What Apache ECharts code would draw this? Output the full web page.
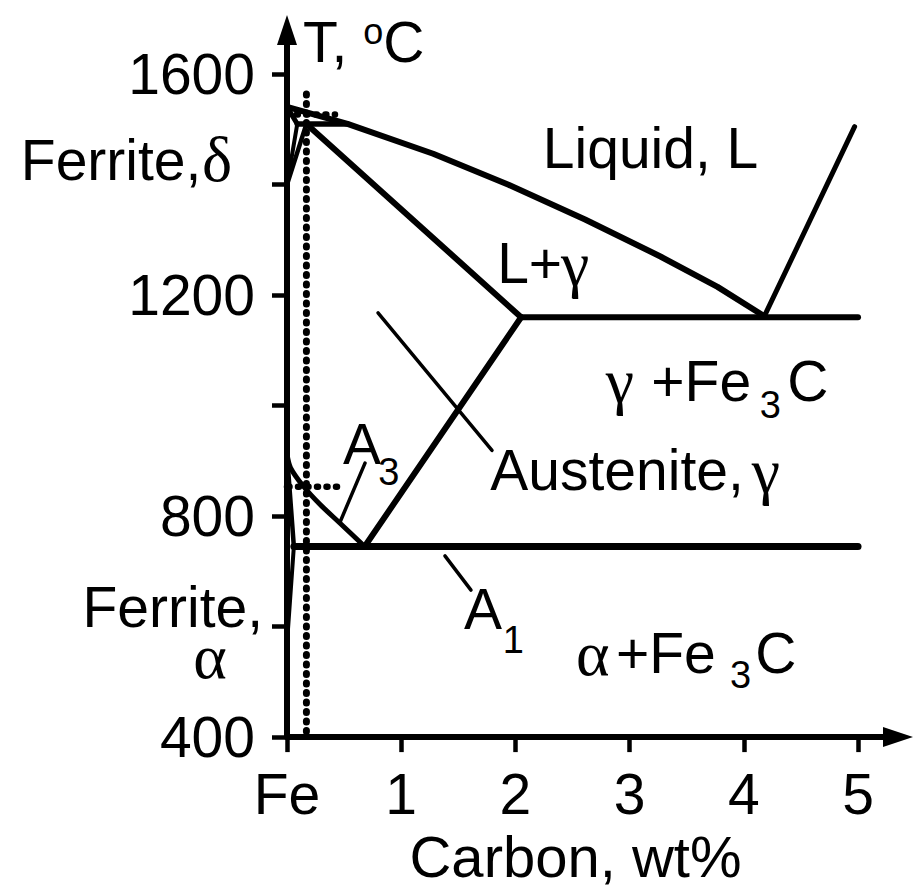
<!DOCTYPE html>
<html><head><meta charset="utf-8">
<script src="https://cdn.jsdelivr.net/npm/echarts@6/dist/echarts.min.js"></script>
<style>html,body{margin:0;padding:0;background:#fff}#c{width:916px;height:890px}</style>
</head><body><div id="c"></div>
<script>
// ---- axis ticks ----
const carbonTicks = [0, 1, 2, 3, 4, 5];
const carbonTickLabels = ['Fe', '1', '2', '3', '4', '5'];
const tempTicks = [400, 600, 800, 1000, 1200, 1400, 1600];
const tempLabels = [400, 800, 1200, 1600];

// ---- phase boundaries (wt% C, deg C) ----
const liquidusC = [0, 0.53, 1.28, 1.94, 2.61, 3.27, 3.77, 4.18];
const liquidusT = [1541, 1510, 1456, 1400, 1337, 1270, 1215, 1162];
const cementiteLiquidusC = [4.18, 4.97];
const cementiteLiquidusT = [1162, 1505];
const solidusC = [0.17, 2.05];
const solidusT = [1510, 1160];
const peritecticC = [0.09, 0.53];
const peritecticT = [1510, 1510];
const deltaSolidusC = [0, 0.09];
const deltaSolidusT = [1541, 1510];
const deltaSolvusC = [0.09, 0];
const deltaSolvusT = [1510, 1400];
const gammaDeltaC = [0.17, 0];
const gammaDeltaT = [1510, 1400];
const eutecticC = [2.05, 5.0];
const eutecticT = [1160, 1160];
const acmC = [2.05, 0.68];
const acmT = [1160, 745];
const a3C = [0, 0.03, 0.14, 0.29, 0.46, 0.68];
const a3T = [912, 888, 855, 821, 788, 745];
const alphaGammaC = [0, 0.06];
const alphaGammaT = [912, 745];
const alphaSolvusC = [0.06, 0];
const alphaSolvusT = [745, 570];
const eutectoidC = [0.06, 5.0];
const eutectoidT = [745, 745];

// ---- dashed guide lines for the 0.17 wt% steel ----
const guideVerticalC = [0.17, 0.17];
const guideVerticalT = [1564, 400];
const guideTopC = [-0.08, 0.42];
const guideTopT = [1527, 1527];
const guideLowC = [-0.07, 0.46];
const guideLowT = [853, 853];

// ---- leader lines ----
const leaderDeltaC = [-0.455, -0.035];
const leaderDeltaT = [1443, 1490];
const leaderAusteniteC = [0.797, 1.795];
const leaderAusteniteT = [1168, 919];
const leaderA3C = [0.683, 0.464];
const leaderA3T = [896, 789];
const leaderA1C = [1.383, 1.611];
const leaderA1T = [728, 666];
const leaderAlphaC = [-0.473, -0.035];
const leaderAlphaT = [680, 716];

// ---- text annotations ----
const annotationText = ['Liquid, L', 'L+', 'γ', 'γ', '+Fe', '3', 'C', 'Austenite,', 'γ', 'A', '3', 'A', '1', 'α', '+Fe', '3', 'C', 'Ferrite,', 'δ', 'Ferrite,', 'α'];
const annotationKind = ['sans', 'sans', 'greek', 'greek', 'sans', 'sub', 'sans', 'sans', 'greek', 'sans', 'sub', 'sans', 'sub', 'greek', 'sans', 'sub', 'sans', 'sansR', 'greekR', 'sansR', 'greek'];
const annotationC = [2.24, 1.84, 2.40, 2.79, 3.19, 4.14, 4.38, 1.78, 4.07, 0.49, 0.80, 1.55, 1.89, 2.53, 2.88, 3.88, 4.10, -0.75, -0.48, -0.21, -0.82];
const annotationT = [1466, 1258, 1258, 1045, 1045, 1002, 1045, 883, 883, 930, 880, 632, 576, 552, 552, 512, 552, 1445, 1445, 636, 545];

const pairs = (cs, ts) => cs.map((c, i) => [c, ts[i]]);

const SANS = 'Liberation Sans';
const SERIF = 'Liberation Serif';
const FS = 57;

function lineSeries(name, cs, ts, width, dashed, smooth) {
  return {
    name: name, type: 'line', data: pairs(cs, ts), showSymbol: false, symbol: 'none',
    clip: false, smooth: smooth ? 0.3 : false, silent: true, z: 5,
    lineStyle: { color: '#000', width: width, type: dashed ? [1, 8.5] : 'solid', cap: 'round', join: 'round', opacity: 1 }
  };
}

const kindStyle = {
  sans: { fontFamily: SANS, fontSize: FS, lineHeight: 46, pos: 'right' },
  sansR: { fontFamily: SANS, fontSize: FS, lineHeight: 46, pos: 'left' },
  greek: { fontFamily: SERIF, fontSize: 64, lineHeight: 46, pos: 'right' },
  greekR: { fontFamily: SERIF, fontSize: 64, lineHeight: 46, pos: 'left' },
  sub: { fontFamily: SANS, fontSize: 38, lineHeight: 32, pos: 'right' }
};

const annotationData = annotationText.map((t, i) => {
  const k = kindStyle[annotationKind[i]];
  return {
    name: t, value: [annotationC[i], annotationT[i]],
    label: { show: true, formatter: t, position: k.pos, distance: 0, fontFamily: k.fontFamily, fontSize: k.fontSize,
      lineHeight: k.lineHeight, color: '#000', opacity: 1, textBorderWidth: 0, textShadowBlur: 0 }
  };
});

const chart = echarts.init(document.getElementById('c'), null, { renderer: 'svg' });
chart.setOption({
  animation: false,
  backgroundColor: '#fff',
  grid: { left: 287, right: 18, top: 30, bottom: 142, containLabel: false },
  xAxis: {
    type: 'value', min: 0, max: 5.35,
    name: 'Carbon, wt%', nameLocation: 'middle', nameGap: 80,
    nameTextStyle: { fontFamily: SANS, fontSize: 58, color: '#000', padding: [0, 34, 0, 0] },
    axisLine: { show: true, onZero: false, symbol: ['none', 'triangle'], symbolSize: [20, 30], lineStyle: { color: '#000', width: 6 } },
    axisTick: { show: true, customValues: carbonTicks, length: 15, inside: false, lineStyle: { color: '#000', width: 4.5 } },
    axisLabel: { show: true, customValues: carbonTicks, formatter: v => carbonTickLabels[carbonTicks.indexOf(Math.round(v))], fontFamily: SANS, fontSize: FS, color: '#000', margin: 28 },
    splitLine: { show: false }
  },
  yAxis: {
    type: 'value', min: 400, max: 1680,
    name: 'T, {s|o}C', nameLocation: 'end', nameGap: -12,
    nameTextStyle: { fontFamily: SANS, fontSize: FS, color: '#000', align: 'left', verticalAlign: 'middle', padding: [0, 0, 0, 16],
      rich: { s: { fontFamily: SANS, fontSize: 36, verticalAlign: 'top', lineHeight: 56 } } },
    axisLine: { show: true, onZero: false, symbol: ['none', 'triangle'], symbolSize: [20, 30], lineStyle: { color: '#000', width: 6 } },
    axisTick: { show: true, customValues: tempTicks, length: 15, inside: false, lineStyle: { color: '#000', width: 4.5 } },
    axisLabel: { show: true, customValues: tempLabels, formatter: v => String(Math.round(v)), fontFamily: SANS, fontSize: FS, color: '#000', margin: 32 },
    splitLine: { show: false }
  },
  series: [
    lineSeries('liquidus', liquidusC, liquidusT, 6, false, false),
    lineSeries('Fe3C liquidus', cementiteLiquidusC, cementiteLiquidusT, 5, false),
    lineSeries('solidus', solidusC, solidusT, 6, false),
    lineSeries('peritectic', peritecticC, peritecticT, 5.5, false),
    lineSeries('delta solidus', deltaSolidusC, deltaSolidusT, 5, false),
    lineSeries('delta solvus', deltaSolvusC, deltaSolvusT, 4, false),
    lineSeries('gamma/delta', gammaDeltaC, gammaDeltaT, 4.5, false),
    lineSeries('eutectic', eutecticC, eutecticT, 6, false),
    lineSeries('Acm', acmC, acmT, 6, false),
    lineSeries('A3', a3C, a3T, 5, false, true),
    lineSeries('alpha/gamma', alphaGammaC, alphaGammaT, 4.5, false),
    lineSeries('alpha solvus', alphaSolvusC, alphaSolvusT, 4, false),
    lineSeries('eutectoid A1', eutectoidC, eutectoidT, 7, false),
    lineSeries('guide vertical', guideVerticalC, guideVerticalT, 7, true),
    lineSeries('guide top', guideTopC, guideTopT, 6.5, true),
    lineSeries('guide low', guideLowC, guideLowT, 6.5, true),
    lineSeries('leader delta', leaderDeltaC, leaderDeltaT, 3.5, false),
    lineSeries('leader austenite', leaderAusteniteC, leaderAusteniteT, 3.5, false),
    lineSeries('leader A3', leaderA3C, leaderA3T, 3.5, false),
    lineSeries('leader A1', leaderA1C, leaderA1T, 3.5, false),
    lineSeries('leader alpha', leaderAlphaC, leaderAlphaT, 3.5, false),
    {
      name: 'labels', type: 'scatter', data: annotationData, symbolSize: 0, clip: false, silent: true, z: 10,
      itemStyle: { color: '#000' }
    }
  ]
});
</script></body></html>
